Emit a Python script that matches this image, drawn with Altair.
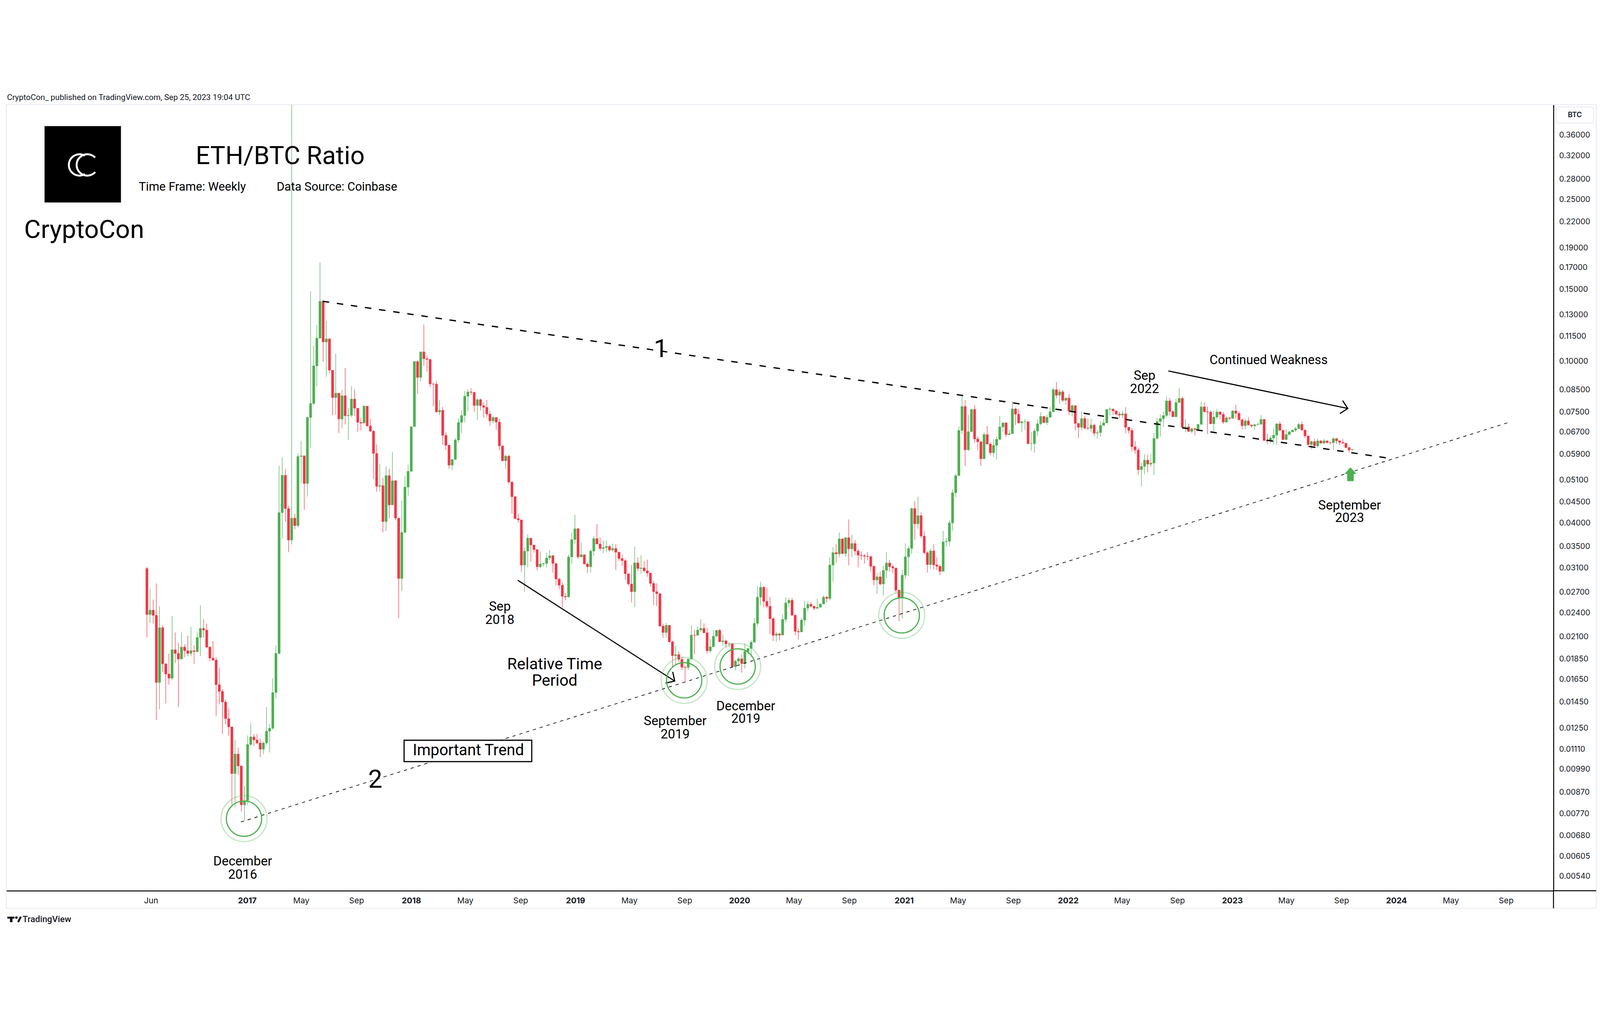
import altair as alt
import pandas as pd
import numpy as np

FIRST_WEEK = "2016-05-23"
FIRST_OPEN = 0.0309

close = [
0.0238, 0.0244, 0.0237, 0.0162, 0.0221, 0.0180, 0.0170, 0.0166, 0.0195, 0.0191,
0.0185, 0.0198, 0.0194, 0.0191, 0.0194, 0.0193, 0.0209, 0.0220, 0.0218, 0.0198,
0.0186, 0.0184, 0.0160, 0.0154, 0.0145, 0.0132, 0.0126, 0.00967, 0.0108, 0.0101,
0.0081, 0.0083, 0.0114, 0.0119, 0.0117, 0.0115, 0.0111, 0.0115, 0.0123, 0.0125,
0.0153, 0.0191, 0.0424, 0.0524, 0.0434, 0.0363, 0.0411, 0.0394, 0.0583, 0.0585,
0.0500, 0.0727, 0.0787, 0.0974, 0.1139, 0.1404, 0.1115, 0.1135, 0.0950, 0.0814,
0.0834, 0.0721, 0.0822, 0.0734, 0.0736, 0.0807, 0.0766, 0.0707, 0.0704, 0.0775,
0.0693, 0.0673, 0.0593, 0.0492, 0.0494, 0.0403, 0.0523, 0.0443, 0.0508, 0.0411,
0.0292, 0.0379, 0.0490, 0.0536, 0.0690, 0.0998, 0.0912, 0.1054, 0.1014, 0.1010,
0.0879, 0.0878, 0.0750, 0.0757, 0.0657, 0.0621, 0.0555, 0.0573, 0.0640, 0.0707,
0.0735, 0.0820, 0.0840, 0.0838, 0.0778, 0.0804, 0.0777, 0.0770, 0.0741, 0.0713,
0.0727, 0.0708, 0.0619, 0.0569, 0.0584, 0.0504, 0.0464, 0.0410, 0.0407, 0.0315,
0.0341, 0.0367, 0.0353, 0.0344, 0.0312, 0.0317, 0.0318, 0.0328, 0.0332, 0.0318,
0.0291, 0.0281, 0.0264, 0.0263, 0.0330, 0.0364, 0.0387, 0.0330, 0.0334, 0.0317,
0.0312, 0.0341, 0.0366, 0.0355, 0.0346, 0.0348, 0.0350, 0.0343, 0.0346, 0.0339,
0.0327, 0.0323, 0.0300, 0.0283, 0.0271, 0.0319, 0.0309, 0.0310, 0.0305, 0.0301,
0.0284, 0.0271, 0.0268, 0.0223, 0.0215, 0.0224, 0.0204, 0.01886, 0.01897, 0.01847,
0.01766, 0.01764, 0.01850, 0.02119, 0.02116, 0.02180, 0.02201, 0.02147, 0.01938, 0.01983,
0.02106, 0.02177, 0.02040, 0.02051, 0.02016, 0.02019, 0.01772, 0.01829, 0.01853, 0.01804,
0.01931, 0.01964, 0.02035, 0.02264, 0.02627, 0.02779, 0.02565, 0.02495, 0.02325, 0.02116,
0.02134, 0.02119, 0.02316, 0.02543, 0.02581, 0.02371, 0.02164, 0.02157, 0.02307, 0.02469,
0.02523, 0.02495, 0.02466, 0.02481, 0.02527, 0.02627, 0.02607, 0.03151, 0.03381, 0.03356,
0.03655, 0.03363, 0.03680, 0.03453, 0.03560, 0.03412, 0.03331, 0.03324, 0.03311, 0.03306,
0.03129, 0.02896, 0.02948, 0.02830, 0.03058, 0.03188, 0.03123, 0.03098, 0.02733, 0.02621,
0.02975, 0.03302, 0.03461, 0.04340, 0.03980, 0.04168, 0.03713, 0.03379, 0.03159, 0.03413,
0.03153, 0.03128, 0.03041, 0.03593, 0.03604, 0.04000, 0.04746, 0.05230, 0.06753, 0.07737,
0.06053, 0.06706, 0.07608, 0.06437, 0.06333, 0.05754, 0.06600, 0.06253, 0.05951, 0.06206,
0.06424, 0.06890, 0.07050, 0.06600, 0.06633, 0.07630, 0.07406, 0.07050, 0.07099, 0.07099,
0.06266, 0.06270, 0.06733, 0.07015, 0.07311, 0.07064, 0.07275, 0.07509, 0.08509, 0.08245,
0.08407, 0.08011, 0.08115, 0.07532, 0.07773, 0.07029, 0.06876, 0.07224, 0.06842, 0.06835,
0.06960, 0.06653, 0.06673, 0.06946, 0.07050, 0.07608, 0.07623, 0.07547, 0.07406, 0.07369,
0.07421, 0.06876, 0.06753, 0.06159, 0.06047, 0.05408, 0.05509, 0.05706, 0.05581, 0.05615,
0.06455, 0.07104, 0.07219, 0.07352, 0.07985, 0.07521, 0.07300, 0.07912, 0.08098, 0.06875,
0.06896, 0.06718, 0.06820, 0.06791, 0.06990, 0.07721, 0.07507, 0.07493, 0.07015, 0.07286,
0.07498, 0.07397, 0.07081, 0.07254, 0.07232, 0.07543, 0.07441, 0.07175, 0.06938, 0.07131,
0.06968, 0.06930, 0.06981, 0.06994, 0.07188, 0.06381, 0.06358, 0.06467, 0.06575, 0.07011,
0.06762, 0.06412, 0.06599, 0.06701, 0.06770, 0.06825, 0.06990, 0.06770, 0.06547, 0.06235,
0.06342, 0.06190, 0.06369, 0.06285, 0.06369, 0.06304, 0.06300, 0.06447, 0.06369, 0.06312,
0.06285, 0.06129, 0.06047, 0.06066,
]

high = [
0.0312, 0.0276, 0.0259, 0.0284, 0.0250, 0.0224, 0.0181, 0.0191, 0.0236, 0.0215,
0.0203, 0.0215, 0.0201, 0.0211, 0.0222, 0.0200, 0.0215, 0.0251, 0.0232, 0.0226,
0.0199, 0.0205, 0.0187, 0.0176, 0.0156, 0.0147, 0.0140, 0.0126, 0.0117, 0.0112,
0.0101, 0.0090, 0.0120, 0.0129, 0.0121, 0.0121, 0.0118, 0.0116, 0.0141, 0.0128,
0.0166, 0.0200, 0.0553, 0.0580, 0.0543, 0.0441, 0.45, 0.0421, 0.0593, 0.0636,
0.0586, 0.0730, 0.1485, 0.1093, 0.1229, 0.1747, 0.1412, 0.1258, 0.1135, 0.0950,
0.1042, 0.0834, 0.0850, 0.0962, 0.0766, 0.0867, 0.0853, 0.0766, 0.0727, 0.0780,
0.0775, 0.0721, 0.0676, 0.0624, 0.0559, 0.0517, 0.0551, 0.0544, 0.0597, 0.0510,
0.0411, 0.0454, 0.0521, 0.0557, 0.0690, 0.1000, 0.1006, 0.1054, 0.1229, 0.1034,
0.1010, 0.0883, 0.0893, 0.0802, 0.0772, 0.0669, 0.0623, 0.0575, 0.0647, 0.0723,
0.0757, 0.0845, 0.0852, 0.0857, 0.0842, 0.0810, 0.0809, 0.0792, 0.0803, 0.0755,
0.0733, 0.0727, 0.0722, 0.0619, 0.0589, 0.0589, 0.0507, 0.0467, 0.0421, 0.0407,
0.0348, 0.0375, 0.0367, 0.0353, 0.0344, 0.0340, 0.0319, 0.0338, 0.0343, 0.0334,
0.0318, 0.0293, 0.0286, 0.0269, 0.0334, 0.0378, 0.0419, 0.0389, 0.0358, 0.0334,
0.0319, 0.0344, 0.0371, 0.0398, 0.0369, 0.0362, 0.0362, 0.0353, 0.0356, 0.0355,
0.0339, 0.0334, 0.0326, 0.0300, 0.0315, 0.0350, 0.0329, 0.0333, 0.0322, 0.0325,
0.0301, 0.0288, 0.0284, 0.0268, 0.0226, 0.0227, 0.0224, 0.02052, 0.01997, 0.01931,
0.01876, 0.01783, 0.01854, 0.02243, 0.02180, 0.02226, 0.02321, 0.02264, 0.02206, 0.02071,
0.02177, 0.02184, 0.02196, 0.02124, 0.02066, 0.02035, 0.02024, 0.01845, 0.01876, 0.01900,
0.02019, 0.01967, 0.02058, 0.02334, 0.02801, 0.02867, 0.02796, 0.02771, 0.02631, 0.02346,
0.02153, 0.02144, 0.02384, 0.02627, 0.02615, 0.02615, 0.02384, 0.02201, 0.02334, 0.02571,
0.02565, 0.02558, 0.02501, 0.02605, 0.02531, 0.02657, 0.02645, 0.03293, 0.03485, 0.03546,
0.03787, 0.03660, 0.03689, 0.04079, 0.03739, 0.03627, 0.03451, 0.03402, 0.03351, 0.03394,
0.03311, 0.03151, 0.03010, 0.03035, 0.03133, 0.03389, 0.03243, 0.03158, 0.03098, 0.02743,
0.03065, 0.03564, 0.03506, 0.04362, 0.04529, 0.04641, 0.04246, 0.03820, 0.03410, 0.03453,
0.03546, 0.03292, 0.03160, 0.03824, 0.03676, 0.04056, 0.04840, 0.05292, 0.06909, 0.08221,
0.08011, 0.07384, 0.07623, 0.07797, 0.06541, 0.06361, 0.06686, 0.06924, 0.06312, 0.06424,
0.06522, 0.07333, 0.07064, 0.07078, 0.06774, 0.07971, 0.07699, 0.07623, 0.07134, 0.07205,
0.07099, 0.06699, 0.06834, 0.07184, 0.07482, 0.07326, 0.07384, 0.07706, 0.08594, 0.08891,
0.08525, 0.08483, 0.08131, 0.08304, 0.07820, 0.07797, 0.07029, 0.07519, 0.07348, 0.07217,
0.07224, 0.07029, 0.06767, 0.07120, 0.07205, 0.07623, 0.07699, 0.07646, 0.07547, 0.07512,
0.07547, 0.07706, 0.06876, 0.06846, 0.06350, 0.06122, 0.05626, 0.05914, 0.05892, 0.05896,
0.06660, 0.07250, 0.07397, 0.07507, 0.08172, 0.08117, 0.07560, 0.08084, 0.08576, 0.08172,
0.07196, 0.07015, 0.06850, 0.06875, 0.07003, 0.07946, 0.07912, 0.07735, 0.07573, 0.07550,
0.07627, 0.07543, 0.07507, 0.07308, 0.07286, 0.07573, 0.07807, 0.07521, 0.07232, 0.07219,
0.07286, 0.06968, 0.07000, 0.07074, 0.07361, 0.07200, 0.06619, 0.06547, 0.06821, 0.07032,
0.07108, 0.06770, 0.06804, 0.06728, 0.06780, 0.06896, 0.07045, 0.07100, 0.06770, 0.06560,
0.06381, 0.06447, 0.06459, 0.06389, 0.06439, 0.06380, 0.06330, 0.06487, 0.06467, 0.06380,
0.06428, 0.06290, 0.06152, 0.06080,
]

low = [
0.0209, 0.0227, 0.0226, 0.0131, 0.0139, 0.0172, 0.0144, 0.0160, 0.0164, 0.0181,
0.0141, 0.0185, 0.0187, 0.0188, 0.0188, 0.0180, 0.0192, 0.0188, 0.0209, 0.0197,
0.0183, 0.0183, 0.0134, 0.0143, 0.0121, 0.0128, 0.0120, 0.0081, 0.0080, 0.0096,
0.0078, 0.0074, 0.0081, 0.0113, 0.0113, 0.0114, 0.0106, 0.0108, 0.0114, 0.0109,
0.0124, 0.0148, 0.0190, 0.0367, 0.0403, 0.0339, 0.0354, 0.0386, 0.0390, 0.0501,
0.0431, 0.0464, 0.0613, 0.0780, 0.0867, 0.1139, 0.0996, 0.0915, 0.0935, 0.0736,
0.0738, 0.0665, 0.0684, 0.0699, 0.0640, 0.0728, 0.0734, 0.0671, 0.0675, 0.0704,
0.0690, 0.0670, 0.0513, 0.0477, 0.0478, 0.0379, 0.0382, 0.0411, 0.0443, 0.0406,
0.0233, 0.0272, 0.0378, 0.0467, 0.0534, 0.0690, 0.0832, 0.0893, 0.0974, 0.0942,
0.0863, 0.0775, 0.0748, 0.0736, 0.0623, 0.0604, 0.0544, 0.0539, 0.0572, 0.0630,
0.0665, 0.0707, 0.0753, 0.0827, 0.0751, 0.0716, 0.0756, 0.0726, 0.0728, 0.0694,
0.0703, 0.0678, 0.0604, 0.0567, 0.0544, 0.0499, 0.0422, 0.0409, 0.0400, 0.0303,
0.0271, 0.0311, 0.0321, 0.0338, 0.0306, 0.0310, 0.0312, 0.0311, 0.0324, 0.0302,
0.0281, 0.0275, 0.0248, 0.0258, 0.0263, 0.0317, 0.0355, 0.0326, 0.0330, 0.0317,
0.0301, 0.0302, 0.0332, 0.0355, 0.0342, 0.0337, 0.0339, 0.0340, 0.0340, 0.0306,
0.0323, 0.0314, 0.0290, 0.0280, 0.0255, 0.0248, 0.0304, 0.0300, 0.0302, 0.0295,
0.0279, 0.0251, 0.0250, 0.0222, 0.0209, 0.0209, 0.0203, 0.01772, 0.01786, 0.01822,
0.01739, 0.01630, 0.01739, 0.01850, 0.01902, 0.02116, 0.02157, 0.02141, 0.01907, 0.01916,
0.01983, 0.02103, 0.02040, 0.01994, 0.01975, 0.01977, 0.01772, 0.01733, 0.01797, 0.01713,
0.01752, 0.01904, 0.01869, 0.02035, 0.02226, 0.02508, 0.02481, 0.02466, 0.02132, 0.02048,
0.02040, 0.02055, 0.02119, 0.02274, 0.02479, 0.02366, 0.02119, 0.02066, 0.02157, 0.02235,
0.02420, 0.02476, 0.02443, 0.02457, 0.02476, 0.02527, 0.02549, 0.02581, 0.02867, 0.03194,
0.03293, 0.03349, 0.03300, 0.03146, 0.03293, 0.03331, 0.03110, 0.03243, 0.03177, 0.03236,
0.03046, 0.02811, 0.02676, 0.02807, 0.02652, 0.02927, 0.03035, 0.03012, 0.02697, 0.02295,
0.02327, 0.02916, 0.02966, 0.03358, 0.03636, 0.03871, 0.03672, 0.03352, 0.03020, 0.03080,
0.03071, 0.03065, 0.02975, 0.03041, 0.03498, 0.03505, 0.03824, 0.04621, 0.05230, 0.06620,
0.05525, 0.06011, 0.06706, 0.06290, 0.06053, 0.05519, 0.05754, 0.06241, 0.05863, 0.05817,
0.05724, 0.06380, 0.06706, 0.06509, 0.06574, 0.06633, 0.06971, 0.07015, 0.06686, 0.06774,
0.06266, 0.06023, 0.05951, 0.06541, 0.06946, 0.07029, 0.06960, 0.07275, 0.07509, 0.08099,
0.07851, 0.07931, 0.07812, 0.07369, 0.07311, 0.06753, 0.06469, 0.06753, 0.06787, 0.06767,
0.06699, 0.06541, 0.06443, 0.06509, 0.06946, 0.07050, 0.07348, 0.07369, 0.07369, 0.07238,
0.07253, 0.06653, 0.06640, 0.05999, 0.05914, 0.05248, 0.04923, 0.05270, 0.05326, 0.05502,
0.05248, 0.06455, 0.06526, 0.06896, 0.07277, 0.07352, 0.07290, 0.07286, 0.07912, 0.06875,
0.06682, 0.06697, 0.06650, 0.06567, 0.06791, 0.06990, 0.07484, 0.06615, 0.06994, 0.06709,
0.07188, 0.07188, 0.07003, 0.07081, 0.07166, 0.07232, 0.07219, 0.07153, 0.06791, 0.06791,
0.06938, 0.06854, 0.06791, 0.06950, 0.06994, 0.06375, 0.06254, 0.06273, 0.06235, 0.06228,
0.06728, 0.06405, 0.06405, 0.06590, 0.06690, 0.06707, 0.06800, 0.06741, 0.06467, 0.06141,
0.06073, 0.06171, 0.06133, 0.06270, 0.06280, 0.06270, 0.06228, 0.06047, 0.06254, 0.06216,
0.06270, 0.06120, 0.05955, 0.06040,
]

y_ticks = [0.36, 0.32, 0.28, 0.25, 0.22, 0.19, 0.17, 0.15, 0.13, 0.115, 0.10, 0.085,
           0.075, 0.067, 0.059, 0.051, 0.045, 0.040, 0.035, 0.031, 0.027, 0.024, 0.021,
           0.0185, 0.0165, 0.0145, 0.0125, 0.0111, 0.0099, 0.0087, 0.0077, 0.0068,
           0.00605, 0.0054]

x_ticks = ["2016-06-01", "2017-01-01", "2017-05-01", "2017-09-01", "2018-01-01",
           "2018-05-01", "2018-09-01", "2019-01-01", "2019-05-01", "2019-09-01",
           "2020-01-01", "2020-05-01", "2020-09-01", "2021-01-01", "2021-05-01",
           "2021-09-01", "2022-01-01", "2022-05-01", "2022-09-01", "2023-01-01",
           "2023-05-01", "2023-09-01", "2024-01-01", "2024-05-01", "2024-09-01"]

trend1 = [("2017-06-18", 0.1404), ("2023-12-16", 0.0577)]
trend2 = [("2016-12-18", 0.00735), ("2024-09-07", 0.0707)]
arrows = [("rel", "2018-08-26", 0.0289), ("rel", "2019-08-10", 0.01633),
          ("weak", "2022-08-12", 0.0946), ("weak", "2023-09-15", 0.0765)]
arrow_heads = [("2019-08-10", 0.01633, 32.7), ("2023-09-15", 0.0765, 11.75)]
circles = [("2016-12-25", 0.00749), ("2019-08-31", 0.01640),
           ("2019-12-28", 0.01774), ("2020-12-27", 0.02370)]
up_arrow = [("2023-09-21", 0.0527)]
labels = [
    ("1", "2019-07-10", 0.1067, 78, 78),
    ("2", "2017-10-13", 0.00931, 78, 78),
    ("Important Trend", "2018-05-08", 0.01100, 48, 48),
    ("Sep\n2018", "2018-07-17", 0.02489, 40, 41),
    ("Relative Time\nPeriod", "2018-11-16", 0.01794, 49, 50),
    ("September\n2019", "2019-08-11", 0.01300, 40, 41),
    ("December\n2019", "2020-01-15", 0.01413, 40, 38),
    ("December\n2016", "2016-12-22", 0.00587, 40, 41),
    ("Sep\n2022", "2022-06-20", 0.0919, 40, 41),
    ("Continued Weakness", "2023-03-23", 0.1005, 39, 39),
    ("September\n2023", "2023-09-19", 0.0441, 40, 38),
]
trend_box = [("2017-12-16", "2018-09-26", 0.01168, 0.01035)]


def ms(s):
    return int(pd.Timestamp(s, tz="UTC").value // 10**6)


dates = pd.date_range(FIRST_WEEK, periods=len(close), freq="7D", tz="UTC")
df = pd.DataFrame({"t": [int(d.value // 10**6) for d in dates],
                   "close": close, "high": high, "low": low})
df["open"] = [FIRST_OPEN] + close[:-1]
df["hi"] = df[["high", "open", "close"]].max(axis=1)
df["lo"] = df[["low", "open", "close"]].min(axis=1)
df["dir"] = np.where(df["close"] >= df["open"], "up", "down")

t1 = pd.DataFrame([{"t": ms(d), "p": p} for d, p in trend1])
t2 = pd.DataFrame([{"t": ms(d), "p": p} for d, p in trend2])
ar = pd.DataFrame([{"id": i, "t": ms(d), "p": p} for i, d, p in arrows])
ah = pd.DataFrame([{"t": ms(d), "p": p, "ang": a} for d, p, a in arrow_heads])
ci = pd.DataFrame([{"t": ms(d), "p": p} for d, p in circles])
ua = pd.DataFrame([{"t": ms(d), "p": p} for d, p in up_arrow])
lb = pd.DataFrame([{"text": s, "t": ms(d), "p": p, "fs": f, "lh": h} for s, d, p, f, h in labels])
bx = pd.DataFrame([{"t": ms(a), "t2": ms(b), "p": p, "p2": q} for a, b, p, q in trend_box])
one = pd.DataFrame({"k": [0]})

GREEN, RED = "#4caf50", "#f23645"
INK = "#131722"
W, H = 4780, 2428

xs = alt.Scale(type="utc", domain=[ms("2015-07-19"), ms("2024-12-12")], nice=False)
ys = alt.Scale(type="log", domain=[0.004979, 0.4275], nice=False)
cs = alt.Scale(domain=["up", "down"], range=[GREEN, RED])

x_axis = alt.Axis(
    values=[ms(s) for s in x_ticks],
    labelExpr="utcmonth(datum.value) == 0 ? utcFormat(datum.value, '%Y') : utcFormat(datum.value, '%b')",
    labelFontWeight={"condition": {"test": "utcmonth(datum.value) == 0", "value": "bold"}, "value": "normal"},
    title=None, grid=False, ticks=False, tickSize=0, domainColor="black", domainWidth=3,
    labelFont="Inter", labelFontSize=25, labelColor=INK, labelPadding=30,
    labelBaseline="middle", labelOverlap=False, labelFlush=False)
y_axis = alt.Axis(
    orient="right", values=y_ticks, format=".5f", title=None, grid=False, ticks=False,
    tickSize=0, domainColor="black", domainWidth=3, labelFont="Inter", labelFontSize=24,
    labelColor=INK, labelPadding=17, labelAlign="left", labelBaseline="middle",
    labelOverlap=False, labelFlush=False)

X = alt.X("t:T", scale=xs, axis=x_axis)

frame = alt.Chart(one).mark_rect(fillOpacity=0, stroke="#e0e3eb", strokeWidth=2).encode(
    x=alt.value(0), x2=alt.value(W + 132), y=alt.value(0), y2=alt.value(H + 54))

base = alt.Chart(df)
wick = base.mark_rule(strokeWidth=1.5, clip=True).encode(
    x=X, y=alt.Y("lo:Q", scale=ys, axis=y_axis), y2="hi:Q",
    color=alt.Color("dir:N", scale=cs, legend=None))
body = base.mark_bar(size=7, strokeWidth=1, clip=True).encode(
    x="t:T", y="open:Q", y2="close:Q",
    fill=alt.Fill("dir:N", scale=cs, legend=None),
    stroke=alt.Stroke("dir:N", scale=cs, legend=None))

line1 = alt.Chart(t1).mark_line(color="black", strokeWidth=4, strokeDash=[20, 24]).encode(x="t:T", y="p:Q")
line2 = alt.Chart(t2).mark_line(color="black", strokeWidth=2, strokeDash=[10, 12]).encode(x="t:T", y="p:Q")
arrow_lines = alt.Chart(ar).mark_line(color="black", strokeWidth=3.5).encode(x="t:T", y="p:Q", detail="id:N")
heads = alt.Chart(ah).mark_point(shape="M-1,-1L0,0L-1,1", filled=False, size=1681, strokeWidth=3.5,
                                 color="black", opacity=1).encode(
    x="t:T", y="p:Q", angle=alt.Angle("ang:Q", scale=None))
outer = alt.Chart(ci).mark_point(shape="circle", filled=False, size=20164, strokeWidth=4,
                                 color=GREEN, opacity=0.3).encode(x="t:T", y="p:Q")
inner = alt.Chart(ci).mark_point(shape="circle", filled=False, size=11881, strokeWidth=3.5,
                                 color=GREEN, opacity=1).encode(x="t:T", y="p:Q")
greenup = alt.Chart(ua).mark_point(
    shape="M0,-1L0.85,-0.05L0.47,-0.05L0.47,1L-0.47,1L-0.47,-0.05L-0.85,-0.05Z",
    filled=True, size=1849, color=GREEN, opacity=1).encode(x="t:T", y="p:Q")
box = alt.Chart(bx).mark_rect(fill="white", stroke="black", strokeWidth=3.5).encode(
    x="t:T", x2="t2:T", y="p:Q", y2="p2:Q")

text_layers = []
for lh_val, grp in lb.groupby("lh"):
    text_layers.append(
        alt.Chart(grp).mark_text(font="Roboto", color="black", align="center", baseline="middle",
                                 lineBreak="\n", lineHeight=float(lh_val)).encode(
            x="t:T", y="p:Q", text="text:N", size=alt.Size("fs:Q", scale=None)))


def txt(s, x, y, size, align="left", baseline="alphabetic", weight="normal", font="Roboto", color="black"):
    return alt.Chart(one).mark_text(text=s, font=font, fontSize=size, align=align, baseline=baseline,
                                    fontWeight=weight, color=color).encode(x=alt.value(x), y=alt.value(y))


published = txt("CryptoCon_ published on TradingView.com, Sep 25, 2023 19:04 UTC", 2, -23, 25,
                baseline="middle", color=INK)
logo = alt.Chart(one).mark_rect(color="black").encode(
    x=alt.value(118), x2=alt.value(354), y=alt.value(66), y2=alt.value(302))
logo_c1 = alt.Chart(one).mark_arc(color="white").encode(
    x=alt.value(226), y=alt.value(186), theta=alt.value(2.6), theta2=alt.value(6.8),
    radius=alt.value(36), radius2=alt.value(30))
logo_c2 = alt.Chart(one).mark_arc(color="white").encode(
    x=alt.value(250), y=alt.value(186), theta=alt.value(2.3), theta2=alt.value(7.1),
    radius=alt.value(36), radius2=alt.value(30))
title = txt("ETH/BTC Ratio", 846, 184, 78, align="center")
tf = txt("Time Frame: Weekly", 409, 265, 37)
ds = txt("Data Source: Coinbase", 835, 265, 37)
brand = txt("CryptoCon", 55, 412, 79)

btc_box = alt.Chart(one).mark_rect(fill="white", stroke="#e0e3eb", strokeWidth=2, cornerRadius=8).encode(
    x=alt.value(W + 8), x2=alt.value(W + 124), y=alt.value(7), y2=alt.value(57))
btc = txt("BTC", W + 66, 32, 22, align="center", baseline="middle", weight=600, font="Inter", color=INK)

ext_h = alt.Chart(one).mark_rule(color="black", strokeWidth=3).encode(
    x=alt.value(W), x2=alt.value(W + 132), y=alt.value(H))
ext_v = alt.Chart(one).mark_rule(color="black", strokeWidth=3).encode(
    x=alt.value(W), y=alt.value(H), y2=alt.value(H + 54))

tv_bar = alt.Chart(one).mark_rect(color=INK).encode(
    x=alt.value(3), x2=alt.value(25), y=alt.value(2508), y2=alt.value(2514))
tv_stem = alt.Chart(one).mark_rect(color=INK).encode(
    x=alt.value(11), x2=alt.value(19), y=alt.value(2508), y2=alt.value(2525))
tv_dot = alt.Chart(one).mark_point(shape="circle", filled=True, size=60, color=INK, opacity=1).encode(
    x=alt.value(31), y=alt.value(2511))
tv_slash = alt.Chart(one).mark_rule(color=INK, strokeWidth=6).encode(
    x=alt.value(45), x2=alt.value(36), y=alt.value(2508), y2=alt.value(2525))
tv_text = txt("TradingView", 50, 2517, 27, baseline="middle", weight=500, color=INK)

chart = alt.layer(
    frame, wick, body, line2, box, line1, arrow_lines, heads, outer, inner, greenup, *text_layers,
    published, logo, logo_c1, logo_c2, title, tf, ds, brand, btc_box, btc, ext_h, ext_v,
    tv_bar, tv_stem, tv_dot, tv_slash, tv_text
).properties(
    width=W, height=H,
    autosize=alt.AutoSizeParams(type="none"),
    padding={"left": 10, "top": 47, "right": 134, "bottom": 104},
    background="white",
).configure_view(stroke=None)

chart.save("out.html", embed_options={"renderer": "svg", "actions": False})
